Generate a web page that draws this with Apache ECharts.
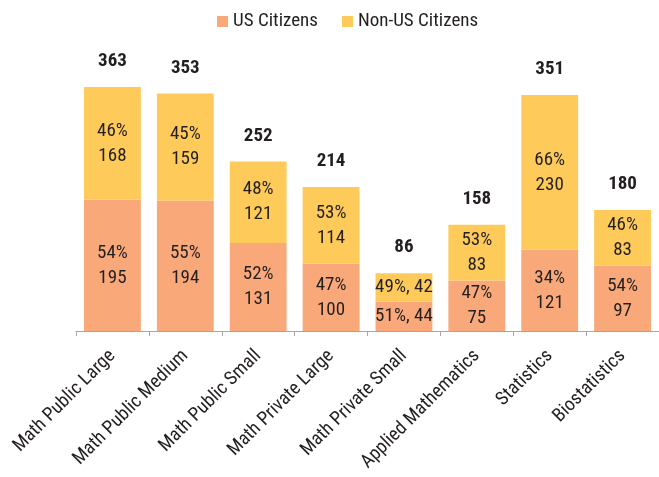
<!DOCTYPE html>
<html><head><meta charset="utf-8">
<script src="https://cdn.jsdelivr.net/npm/echarts@6/dist/echarts.min.js"></script>
<style>html,body{margin:0;padding:0;background:#fff}#c{width:659px;height:477px}</style>
</head><body><div id="c"></div>
<script>
const categories = ["Math Public Large","Math Public Medium","Math Public Small","Math Private Large","Math Private Small","Applied Mathematics","Statistics","Biostatistics"];
const usValues = [195,194,131,100,44,75,121,97];
const nonUsValues = [168,159,121,114,42,83,230,83];
const usPct = [54,55,52,47,51,47,34,54];
const nonUsPct = [46,45,48,53,49,53,66,46];
const totals = [363,353,252,214,86,158,351,180];

const FONT = '"Roboto Condensed", "Liberation Sans Narrow", Roboto, sans-serif';
const chart = echarts.init(document.getElementById('c'), null, {renderer:'canvas'});
function inLabel(pcts, vals){
  return {show:true, position:'inside', color:'#231f20', fontFamily:FONT, fontSize:19, lineHeight:25,
    formatter:p=>{const i=p.dataIndex; return vals[i]<60 ? pcts[i]+'%, '+vals[i] : pcts[i]+'%\n'+vals[i];}};
}
chart.setOption({
  animation:false,
  legend:{top:7, left:212, itemWidth:11, itemHeight:11, itemGap:24,
    textStyle:{fontFamily:FONT, fontSize:19, color:'#231f20'}, icon:'rect',
    data:['US Citizens','Non-US Citizens']},
  grid:{left:76, right:0, top:62, bottom:146},
  xAxis:{type:'category', data:categories,
    axisLine:{lineStyle:{color:'#a6a6a6', width:1}},
    axisTick:{show:true, length:5, lineStyle:{color:'#a6a6a6'}},
    axisLabel:{rotate:45, fontFamily:FONT, fontSize:19, color:'#231f20', margin:22, interval:0}},
  yAxis:{type:'value', min:0, max:400, show:false, splitLine:{show:false}},
  series:[
    {name:'US Citizens', type:'bar', stack:'a', data:usValues, barCategoryGap:'22%',
     itemStyle:{color:'#f9a979'}, label:inLabel(usPct, usValues)},
    {name:'Non-US Citizens', type:'bar', stack:'a', data:nonUsValues,
     itemStyle:{color:'#fecb5a'}, label:inLabel(nonUsPct, nonUsValues)},
    {name:'Total', type:'bar', stack:'a', data:totals.map(()=>0), itemStyle:{color:'transparent'},
     label:{show:true, position:'top', distance:16, fontFamily:FONT, fontWeight:'bold', fontSize:19, color:'#231f20',
       formatter:p=>String(totals[p.dataIndex])}, tooltip:{show:false}}
  ]
});
</script></body></html>
